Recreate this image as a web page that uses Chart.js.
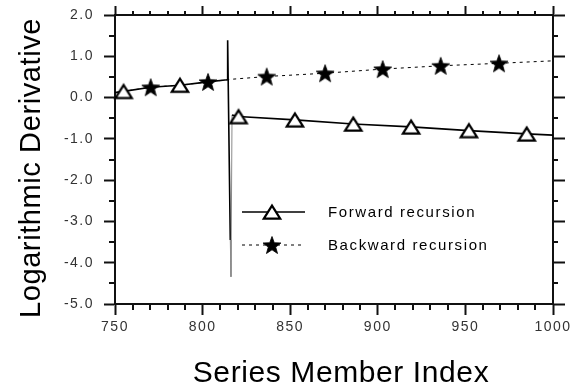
<!DOCTYPE html>
<html>
<head>
<meta charset="utf-8">
<script src="https://cdn.jsdelivr.net/npm/chart.js@4.4.1/dist/chart.umd.min.js"></script>
<style>
  html, body { margin: 0; padding: 0; background: #fff; }
  #wrap { width: 575px; height: 392px; }
</style>
</head>
<body>
<div id="wrap"><canvas id="c" width="575" height="392"></canvas></div>
<script>
// ---- text ----
const xAxisTitle = 'Series Member Index';
const yAxisTitle = 'Logarithmic Derivative';
const legendLabels = ['Forward recursion', 'Backward recursion'];

// ---- axis ticks ----
const xTicks = [750, 800, 850, 900, 950, 1000];
const xMinorTicks = [760, 770, 780, 790, 810, 820, 830, 840, 860, 870, 880, 890,
                     910, 920, 930, 940, 960, 970, 980, 990];
const yTicks = [2, 1, 0, -1, -2, -3, -4, -5];
const yMinorTicks = [1.5, 0.5, -0.5, -1.5, -2.5, -3.5, -4.5];

// ---- forward recursion (solid curve, pole near n = 815) ----
const forwardX = [750, 754.9, 770.4, 787.1, 803.1, 814.0, 814.3, 815.8, 816.2, 816.8,
                  820.5, 852.7, 886.0, 919.0, 952.0, 985.0, 1000];
const forwardY = [0.12, 0.15, 0.25, 0.30, 0.38, 0.43, 1.39, -3.45, -4.34, -0.42,
                  -0.46, -0.54, -0.64, -0.71, -0.80, -0.88, -0.91];
// segments drawn in grey (steep return from the pole)
const forwardGreySegments = [7, 8];
const forwardMarkX = [754.9, 787.1, 820.5, 852.7, 886.0, 919.0, 952.0, 985.0];
const forwardMarkY = [0.15, 0.30, -0.46, -0.54, -0.64, -0.71, -0.80, -0.88];

// ---- backward recursion (dotted curve) ----
const backwardX = [750, 754.9, 770.4, 787.1, 803.1, 814.0, 815.5, 836.6, 869.9, 902.8,
                   935.9, 969.2, 1000];
const backwardY = [0.12, 0.15, 0.25, 0.30, 0.38, 0.43, 0.44, 0.51, 0.59, 0.69,
                   0.77, 0.83, 0.89];
const backwardMarkX = [770.4, 803.1, 836.6, 869.9, 902.8, 935.9, 969.2];
const backwardMarkY = [0.25, 0.38, 0.51, 0.59, 0.69, 0.77, 0.83];

const pts = (xs, ys) => xs.map((x, i) => ({ x: x, y: ys[i] }));

// ---- marker glyphs ----
function makeTriangle() {
  const c = document.createElement('canvas');
  c.width = 22; c.height = 20;
  const g = c.getContext('2d');
  g.beginPath();
  g.moveTo(11, 3.6);
  g.lineTo(19.2, 16.6);
  g.lineTo(2.8, 16.6);
  g.closePath();
  g.fillStyle = '#fff';
  g.fill();
  g.lineWidth = 2.2;
  g.strokeStyle = '#000';
  g.stroke();
  return c;
}
function makeStar() {
  const c = document.createElement('canvas');
  c.width = 22; c.height = 22;
  const g = c.getContext('2d');
  const R = 9.4, r = 3.9, cx = 11, cy = 11.9;
  g.beginPath();
  for (let k = 0; k < 10; k++) {
    const rad = k % 2 === 0 ? R : r;
    const a = -Math.PI / 2 + k * Math.PI / 5;
    const px = cx + rad * Math.cos(a), py = cy + rad * Math.sin(a);
    if (k === 0) g.moveTo(px, py); else g.lineTo(px, py);
  }
  g.closePath();
  g.fillStyle = '#000';
  g.fill();
  g.lineWidth = 0.8;
  g.strokeStyle = '#000';
  g.stroke();
  return c;
}
const triangleGlyph = makeTriangle();
const starGlyph = makeStar();

const INK = '#111';
const tickFont = { family: '"Liberation Sans", Arial, Helvetica, sans-serif', size: 14 };

function fixedTicks(values) {
  return function (scale) { scale.ticks = values.map(v => ({ value: v })); };
}

// minor tick marks, legend and axis titles
const decorations = {
  id: 'decorations',
  beforeDraw(chart) {
    chart.ctx.letterSpacing = '1.5px';
  },
  afterDatasetsDraw(chart) {
    const ctx = chart.ctx;
    const a = chart.chartArea;
    const xs = chart.scales.x, ys = chart.scales.y;
    ctx.save();
    ctx.letterSpacing = '0px';
    ctx.strokeStyle = INK;
    ctx.lineWidth = 2;
    ctx.beginPath();
    xMinorTicks.forEach(v => {
      const px = Math.round(xs.getPixelForValue(v));
      ctx.moveTo(px, a.bottom); ctx.lineTo(px, a.bottom + 6);
      ctx.moveTo(px, a.top); ctx.lineTo(px, a.top - 4);
    });
    yMinorTicks.forEach(v => {
      const py = Math.round(ys.getPixelForValue(v));
      ctx.moveTo(a.left - 6, py); ctx.lineTo(a.left, py);
      ctx.moveTo(a.right, py); ctx.lineTo(a.right + 5, py);
    });
    ctx.stroke();

    // legend
    const lx0 = 242, lx1 = 305, mx = 272;
    const rows = [212, 245];
    ctx.lineWidth = 1.3;
    ctx.strokeStyle = '#000';
    ctx.beginPath();
    ctx.moveTo(lx0, rows[0]); ctx.lineTo(lx1, rows[0]);
    ctx.stroke();
    ctx.lineWidth = 1;
    ctx.setLineDash([3, 4]);
    ctx.beginPath();
    ctx.moveTo(lx0, rows[1]); ctx.lineTo(lx1, rows[1]);
    ctx.stroke();
    ctx.setLineDash([]);
    ctx.drawImage(triangleGlyph, mx - triangleGlyph.width / 2, rows[0] - triangleGlyph.height / 2);
    ctx.drawImage(starGlyph, mx - starGlyph.width / 2, rows[1] - starGlyph.height / 2);
    ctx.fillStyle = '#000';
    ctx.font = '15px "Liberation Sans", Arial, Helvetica, sans-serif';
    ctx.letterSpacing = '1.6px';
    ctx.textAlign = 'left';
    ctx.textBaseline = 'middle';
    ctx.fillText(legendLabels[0], 328, rows[0] + 1);
    ctx.fillText(legendLabels[1], 328, rows[1] + 1);
    ctx.restore();
  },
  afterDraw(chart) {
    const ctx = chart.ctx;
    ctx.save();
    ctx.fillStyle = '#000';
    ctx.textAlign = 'center';
    ctx.textBaseline = 'alphabetic';
    ctx.letterSpacing = '0.6px';
    ctx.font = '30px "Liberation Sans", Arial, Helvetica, sans-serif';
    ctx.fillText(xAxisTitle, 341, 382);
    ctx.translate(40, 168);
    ctx.rotate(-Math.PI / 2);
    ctx.font = '29px "Liberation Sans", Arial, Helvetica, sans-serif';
    ctx.fillText(yAxisTitle, 0, 0);
    ctx.restore();
    ctx.letterSpacing = '0px';
  }
};

const xCommon = {
  type: 'linear', min: 750, max: 1000,
  afterBuildTicks: fixedTicks(xTicks),
  border: { display: true, color: INK, width: 2 }
};
const yCommon = {
  type: 'linear', min: -5, max: 2,
  afterBuildTicks: fixedTicks(yTicks),
  border: { display: true, color: INK, width: 2 }
};

new Chart(document.getElementById('c'), {
  type: 'line',
  data: {
    datasets: [
      {
        label: legendLabels[0] + ' markers',
        data: pts(forwardMarkX, forwardMarkY),
        showLine: false,
        pointStyle: triangleGlyph,
        pointRadius: 10,
        clip: false,
        order: 0
      },
      {
        label: legendLabels[1] + ' markers',
        data: pts(backwardMarkX, backwardMarkY),
        showLine: false,
        pointStyle: starGlyph,
        pointRadius: 10,
        clip: false,
        order: 0
      },
      {
        label: legendLabels[0],
        data: pts(forwardX, forwardY),
        borderColor: '#000',
        borderWidth: 1.4,
        pointRadius: 0,
        tension: 0,
        segment: {
          borderColor: ctx => forwardGreySegments.includes(ctx.p0DataIndex) ? '#8a8a8a' : '#000',
          borderWidth: ctx => forwardGreySegments.includes(ctx.p0DataIndex) ? 1 : 1.6
        },
        order: 1
      },
      {
        label: legendLabels[1],
        data: pts(backwardX, backwardY),
        borderColor: '#000',
        borderWidth: 1,
        borderDash: [3, 4],
        pointRadius: 0,
        tension: 0,
        order: 2
      }
    ]
  },
  options: {
    responsive: false,
    animation: false,
    devicePixelRatio: 1,
    layout: { padding: 0 },
    plugins: { legend: { display: false }, tooltip: { enabled: false } },
    scales: {
      x: Object.assign({}, xCommon, {
        position: 'bottom',
        grid: { drawOnChartArea: false, tickLength: 11, tickWidth: 2, tickColor: INK },
        ticks: { font: tickFont, color: '#333', padding: 4, maxRotation: 0, autoSkip: false,
                 callback: v => String(v) },
        afterFit: s => { s.height = 88; s.paddingLeft = 0; s.paddingRight = 0; }
      }),
      x2: Object.assign({}, xCommon, {
        position: 'top',
        grid: { drawOnChartArea: false, tickLength: 9, tickWidth: 2, tickColor: INK },
        ticks: { display: false },
        afterFit: s => { s.height = 15; s.paddingLeft = 0; s.paddingRight = 0; }
      }),
      y: Object.assign({}, yCommon, {
        position: 'left',
        grid: { drawOnChartArea: false, tickLength: 11, tickWidth: 2, tickColor: INK },
        ticks: { font: tickFont, color: '#333', padding: 10, callback: v => v.toFixed(1) },
        afterFit: s => { s.width = 115; s.paddingTop = 0; s.paddingBottom = 0; }
      }),
      y2: Object.assign({}, yCommon, {
        position: 'right',
        grid: { drawOnChartArea: false, tickLength: 12, tickWidth: 2, tickColor: INK },
        ticks: { display: false },
        afterFit: s => { s.width = 22; s.paddingTop = 0; s.paddingBottom = 0; }
      })
    }
  },
  plugins: [decorations]
});
</script>
</body>
</html>
